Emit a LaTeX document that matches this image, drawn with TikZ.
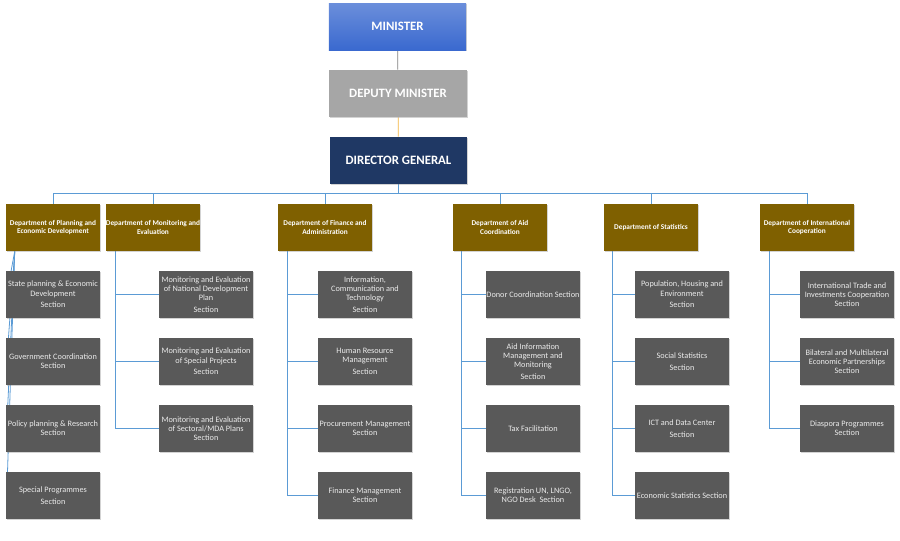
\documentclass[tikz,border=0pt]{standalone}
\usepackage{fontspec}
\setmainfont{Carlito}
\usetikzlibrary{positioning,calc,backgrounds,shadows}

\definecolor{minblue}{HTML}{3A69CF}
\definecolor{depgray}{HTML}{A6A6A6}
\definecolor{dgnavy}{HTML}{1F3864}
\definecolor{deptgold}{HTML}{7F6000}
\definecolor{secgray}{HTML}{595959}
\definecolor{linkblue}{HTML}{5B9BD5}
\definecolor{linkgold}{HTML}{F2B33D}
\definecolor{linkgray}{HTML}{808080}

\tikzset{
  topbox/.style={rectangle,minimum width=103pt,minimum height=35.25pt,
    text=white,font=\fontsize{9.6}{11}\selectfont\bfseries,
    drop shadow={opacity=.35,shadow xshift=.8pt,shadow yshift=-.8pt}},
  deptbox/.style={rectangle,fill=deptgold,minimum width=70.5pt,minimum height=35.25pt,
    inner sep=0pt,text=white,align=center,font=\fontsize{5.5}{6.1}\selectfont\bfseries,
    drop shadow={opacity=.35,shadow xshift=.8pt,shadow yshift=-.8pt}},
  secbox/.style={rectangle,fill=secgray,minimum width=70.5pt,minimum height=35.25pt,
    inner sep=0pt,text=white!92!black,align=center,font=\fontsize{6.2}{6.8}\selectfont,
    drop shadow={opacity=.35,shadow xshift=.8pt,shadow yshift=-.8pt}},
  link/.style={draw=linkblue,line width=.6pt}
}

\begin{document}
\begin{tikzpicture}[x=0.75pt,y=-0.75pt]
  \useasboundingbox (0,0) rectangle (900,540);

  % top of the chart
  \node[topbox,top color=minblue!75!white,bottom color=minblue] (min) at (397.5,26.5) {MINISTER};
  \node[topbox,fill=depgray] (dep) at (398,93.5) {DEPUTY MINISTER};
  \node[topbox,fill=dgnavy] (dg) at (398.5,160.5) {DIRECTOR GENERAL};

  % departments
  \node[deptbox] (d1) at (53,227.5)  {Department of Planning and\\Economic Development};
  \node[deptbox] (d2) at (153,227.5) {Department of Monitoring and\\Evaluation};
  \node[deptbox] (d3) at (325,227.5) {Department of Finance and\\Administration};
  \node[deptbox] (d4) at (500,227.5) {Department of Aid\\Coordination};
  \node[deptbox] (d5) at (651,227.5) {Department of Statistics};
  \node[deptbox] (d6) at (807,227.5) {Department of International\\Cooperation};

  % sections
  \node[secbox] (s11) at (53,294.5) {State planning \& Economic\\Development\\[2pt]Section};
  \node[secbox] (s12) at (53,361.5) {Government Coordination\\Section};
  \node[secbox] (s13) at (53,428.5) {Policy planning \& Research\\Section};
  \node[secbox] (s14) at (53,495.5) {Special Programmes\\[2pt]Section};

  \node[secbox] (s21) at (206,294.5) {Monitoring and Evaluation\\of National Development\\Plan\\[2pt]Section};
  \node[secbox] (s22) at (206,361.5) {Monitoring and Evaluation\\of Special Projects\\[2pt]Section};
  \node[secbox] (s23) at (206,428.5) {Monitoring and Evaluation\\of Sectoral/MDA Plans\\Section};

  \node[secbox] (s31) at (365,294.5) {Information,\\Communication and\\Technology\\[2pt]Section};
  \node[secbox] (s32) at (365,361.5) {Human Resource\\Management\\[2pt]Section};
  \node[secbox] (s33) at (365,428.5) {Procurement Management\\Section};
  \node[secbox] (s34) at (365,495.5) {Finance Management\\Section};

  \node[secbox] (s41) at (533,294.5) {Donor Coordination Section};
  \node[secbox] (s42) at (533,361.5) {Aid Information\\Management and\\Monitoring\\[2pt]Section};
  \node[secbox] (s43) at (533,428.5) {Tax Facilitation};
  \node[secbox] (s44) at (533,495.5) {Registration UN, LNGO,\\NGO Desk~ Section};

  \node[secbox] (s51) at (682,294.5) {Population, Housing and\\Environment\\[2pt]Section};
  \node[secbox] (s52) at (682,361.5) {Social Statistics\\[2pt]Section};
  \node[secbox] (s53) at (682,428.5) {ICT and Data Center\\[2pt]Section};
  \node[secbox] (s54) at (682,495.5) {Economic Statistics Section};

  \node[secbox] (s61) at (847,294.5) {International Trade and\\Investments Cooperation\\Section};
  \node[secbox] (s62) at (847,361.5) {Bilateral and Multilateral\\Economic Partnerships\\Section};
  \node[secbox] (s63) at (847,428.5) {Diaspora Programmes\\Section};

  \begin{scope}[on background layer]
    \draw[draw=linkgray,line width=.6pt] (min) -- (dep);
    \draw[draw=linkgold,line width=.6pt] (dep) -- (dg);
    \coordinate (bus) at ($(dg.south)+(0,9)$);
    \draw[link] (dg.south) -- (bus);
    \foreach \d in {d1,d2,d3,d4,d5,d6}
      \draw[link] (bus) -| (\d.north);
    % first column hangs off the corner
    \foreach \s in {s11,s12,s13,s14}
      \draw[link] ($(d1.south west)+(9,0)$) -- ($(\s.west)+(1,0)$);
    \foreach \s in {s21,s22,s23}
      \draw[link] ($(d2.south west)+(10,0)$) |- (\s.west);
    \foreach \s in {s31,s32,s33,s34}
      \draw[link] ($(d3.south west)+(10,0)$) |- (\s.west);
    \foreach \s in {s41,s42,s43,s44}
      \draw[link] ($(d4.south west)+(9,0)$) |- (\s.west);
    \foreach \s in {s51,s52,s53,s54}
      \draw[link] ($(d5.south west)+(9,0)$) |- (\s.west);
    \foreach \s in {s61,s62,s63}
      \draw[link] ($(d6.south west)+(10,0)$) |- (\s.west);
  \end{scope}
\end{tikzpicture}
\end{document}
